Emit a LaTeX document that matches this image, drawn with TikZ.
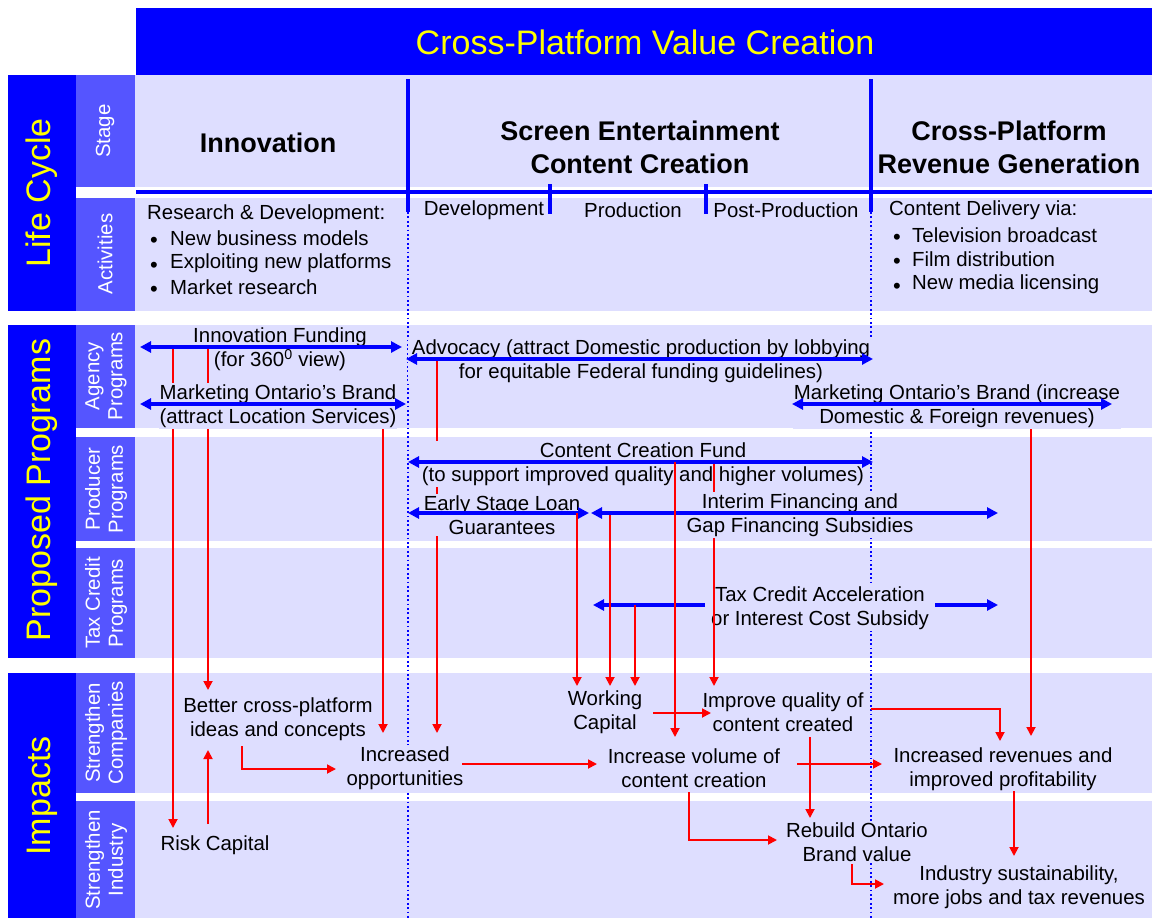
\documentclass[tikz,border=0pt]{standalone}
\usepackage{fontspec}
\setmainfont{Liberation Sans}
\usetikzlibrary{arrows.meta}
\definecolor{dkblue}{RGB}{0,0,255}
\definecolor{midblue}{RGB}{85,85,255}
\definecolor{lav}{RGB}{222,222,255}
\definecolor{ttl}{RGB}{255,255,0}
\begin{document}
\begin{tikzpicture}[x=1pt,y=-1pt,
  txt/.style={font=\fontsize{20.4}{24.5}\selectfont, align=center, inner sep=1pt, yshift=-2pt},
  lbl/.style={txt, fill=lav},
  bul/.style={font=\fontsize{22}{24.5}\selectfont, inner sep=0pt, yshift=-6pt},
  head/.style={font=\fontsize{27}{33}\selectfont\bfseries, align=center, inner sep=0pt},
  side/.style={font=\fontsize{20.4}{23}\selectfont, text=white, align=center, rotate=90, inner sep=0pt},
  big/.style={font=\fontsize{34}{40}\selectfont, text=ttl, rotate=90, inner sep=0pt},
  barrow/.style={draw=dkblue, line width=3.5pt, {Triangle[length=11pt,width=11pt]}-{Triangle[length=11pt,width=11pt]}},
  rarrow/.style={draw=red, line width=1.8pt, -{Triangle[length=9pt,width=9pt]}},
  dotline/.style={draw=dkblue, line width=1.8pt, dash pattern=on 1.8pt off 2.6pt},
  rule/.style={draw=dkblue, line width=4pt}]
\useasboundingbox (0,0) rectangle (1152,918);

% ---- panels ----
\fill[dkblue] (136,8) rectangle (1152,75);
\fill[dkblue] (8,75) rectangle (76,311);
\fill[dkblue] (8,325) rectangle (76,658);
\fill[dkblue] (8,673) rectangle (76,918);
\foreach \a/\b in {75/187,198/311,325/428,437/541,548/658,673/793,801/918}{
  \fill[midblue] (76,\a) rectangle (135,\b);
  \fill[lav] (135,\a) rectangle (1152,\b);
}

% ---- stage rules ----
\draw[rule] (136,191.5) -- (1152,191.5);
\draw[rule] (408,79) -- (408,212);
\draw[rule] (871,79) -- (871,212);
\draw[rule] (550,184) -- (550,214);
\draw[rule] (706,184) -- (706,214);
\draw[dotline] (408,212) -- (408,918);
\draw[dotline] (871,212) -- (871,918);

% ---- headings ----
\node[font=\fontsize{34}{40}\selectfont, text=ttl] (title) at (645,42) {Cross-Platform Value Creation};
\node[big] (lc) at (42,193) {Life Cycle};
\node[big] (pp) at (42,490) {Proposed Programs};
\node[big] (imp) at (42,796) {Impacts};
\node[side] (s1) at (105,131) {Stage};
\node[side] (s2) at (105,254) {Activities};
\node[side] (s3) at (106,376) {Agency\\Programs};
\node[side] (s4) at (106,489) {Producer\\Programs};
\node[side] (s5) at (106,603) {Tax Credit\\Programs};
\node[side] (s6) at (106,733) {Strengthen\\Companies};
\node[side] (s7) at (106,860) {Strengthen\\Industry};

\node[head] (innov) at (268,143) {Innovation};
\node[head] (secc) at (640,147) {Screen Entertainment\\Content Creation};
\node[head] (cprg) at (1009,147) {Cross-Platform\\Revenue Generation};

\node[txt] (dev) at (484,208) {Development};
\node[txt] (prod) at (633,208) {Production};
\node[txt] (post) at (786,208) {Post-Production};

% ---- activities ----
\node[txt, anchor=west] (rd) at (146,212) {Research \& Development:};
\node[bul] (rdb1) at (154,236) {\vphantom{Mg}•};
\node[bul] (rdb2) at (154,261) {\vphantom{Mg}•};
\node[bul] (rdb3) at (154,285) {\vphantom{Mg}•};
\node[txt, anchor=west] (rd1) at (169,236) {New business models};
\node[txt, anchor=west] (rd2) at (169,261) {Exploiting new platforms};
\node[txt, anchor=west] (rd3) at (169,285) {Market research};
\node[txt, anchor=west] (cd) at (888,208) {Content Delivery via:};
\node[bul] (cdb1) at (897,233) {\vphantom{Mg}•};
\node[bul] (cdb2) at (897,257) {\vphantom{Mg}•};
\node[bul] (cdb3) at (897,282) {\vphantom{Mg}•};
\node[txt, anchor=west] (cd1) at (911,233) {Television broadcast};
\node[txt, anchor=west] (cd2) at (911,257) {Film distribution};
\node[txt, anchor=west] (cd3) at (911,282) {New media licensing};

% ---- connector end points ----
\coordinate (ifL) at (140,347);  \coordinate (ifR) at (402,347);
\coordinate (adL) at (406,359);  \coordinate (adR) at (873,359);
\coordinate (m1L) at (140,404);  \coordinate (m1R) at (406,404);
\coordinate (m2L) at (792,404);  \coordinate (m2R) at (1112,404);
\coordinate (cfL) at (408,462);  \coordinate (cfR) at (873,462);
\coordinate (esL) at (408,513);  \coordinate (esR) at (589,513);
\coordinate (inL) at (591,513);  \coordinate (inR) at (998,513);
\coordinate (txL) at (593,605);  \coordinate (txR) at (998,605);

\coordinate (a1) at (173,347); \coordinate (a1e) at (173,828);
\coordinate (a2) at (208,347); \coordinate (a2e) at (208,690);
\coordinate (a3) at (208,824); \coordinate (a3e) at (208,750);
\coordinate (a4) at (383,404); \coordinate (a4e) at (383,733);
\coordinate (a5) at (437,359); \coordinate (a5e) at (437,733);
\coordinate (a6) at (577,513); \coordinate (a6e) at (577,686);
\coordinate (a7) at (610,515); \coordinate (a7e) at (610,686);
\coordinate (a8) at (635,605); \coordinate (a8e) at (635,686);
\coordinate (a9) at (675,462); \coordinate (a9e) at (675,737);
\coordinate (a10) at (714,462); \coordinate (a10e) at (714,686);
\coordinate (a11) at (653,713); \coordinate (a11e) at (711,713);
\coordinate (a12) at (1031,404); \coordinate (a12e) at (1031,736);
\coordinate (a13) at (871,709); \coordinate (a13e) at (1000,741);
\coordinate (a14) at (797,764); \coordinate (a14e) at (882,764);
\coordinate (a15) at (810,737); \coordinate (a15e) at (810,818);
\coordinate (a16) at (689,792); \coordinate (a16e) at (777,840);
\coordinate (a17) at (1014,791); \coordinate (a17e) at (1014,856);
\coordinate (a18) at (852,864); \coordinate (a18e) at (884,884);
\coordinate (a19) at (462,764); \coordinate (a19e) at (597,764);
\coordinate (a20) at (242,746); \coordinate (a20e) at (336,769);

% ---- impacts ----
\node[lbl] (better) at (278,717) {Better cross-platform\\ideas and concepts};
\node[lbl] (opp) at (405,766) {Increased\\opportunities};
\node[lbl] (risk) at (215,843) {Risk Capital};
\node[lbl] (wcap) at (605,710) {Working\\Capital};
\node[lbl] (qual) at (783,710) {Improve quality of\\content created};
\node[lbl] (vol) at (694,766) {Increase volume of\\content creation};
\node[lbl] (rev) at (1003,767) {Increased revenues and\\improved profitability};
\node[lbl] (brand) at (857,840) {Rebuild Ontario\\Brand value};
\node[lbl] (sust) at (1019,885) {Industry sustainability,\\more jobs and tax revenues};

% ---- programs (stacking order matters) ----
\node[lbl] (ifund) at (280,347) {Innovation Funding\\(for 360\textsuperscript{0} view)};
\draw[rarrow] (a1) -- (a1e);
\draw[rarrow] (a2) -- (a2e);
\draw[rarrow] (a4) -- (a4e);
\draw[rarrow] (a12) -- (a12e);
\node[lbl] (mkt1) at (278,404) {Marketing Ontario’s Brand\\(attract Location Services)};
\node[lbl, inner xsep=4pt] (advo) at (641,359) {Advocacy (attract Domestic production by lobbying\\for equitable Federal funding guidelines)};
\node[lbl] (mkt2) at (957,404) {Marketing Ontario’s Brand (increase\\Domestic \& Foreign revenues)};
\draw[rarrow] (a5) -- (a5e);
\draw[barrow] (txL) -- (txR);
\node[lbl] (ccf) at (643,462) {Content Creation Fund\\(to support improved quality and higher volumes)};
\node[lbl] (esl) at (502,513) {Early Stage Loan\\Guarantees};
\node[lbl, inner xsep=6pt] (tax) at (820,606) {Tax Credit Acceleration\\or Interest Cost Subsidy};
\draw[rarrow] (a10) -- (a10e);
\node[lbl] (interim) at (800,513) {Interim Financing and\\Gap Financing Subsidies};

\draw[barrow] (ifL) -- (ifR);
\draw[barrow] (adL) -- (adR);
\draw[barrow] (m1L) -- (m1R);
\draw[barrow] (m2L) -- (m2R);
\draw[barrow] (cfL) -- (cfR);
\draw[barrow] (esL) -- (esR);
\draw[barrow] (inL) -- (inR);

% ---- flows into impacts ----
\draw[rarrow] (a6) -- (a6e);
\draw[rarrow] (a7) -- (a7e);
\draw[rarrow] (a8) -- (a8e);
\draw[rarrow] (a9) -- (a9e);
\draw[rarrow] (a3) -- (a3e);
\draw[rarrow] (a11) -- (a11e);
\draw[rarrow] (a13) -| (a13e);
\draw[rarrow] (a14) -- (a14e);
\draw[rarrow] (a15) -- (a15e);
\draw[rarrow] (a16) |- (a16e);
\draw[rarrow] (a17) -- (a17e);
\draw[rarrow] (a18) |- (a18e);
\draw[rarrow] (a19) -- (a19e);
\draw[rarrow] (a20) |- (a20e);
\end{tikzpicture}
\end{document}
